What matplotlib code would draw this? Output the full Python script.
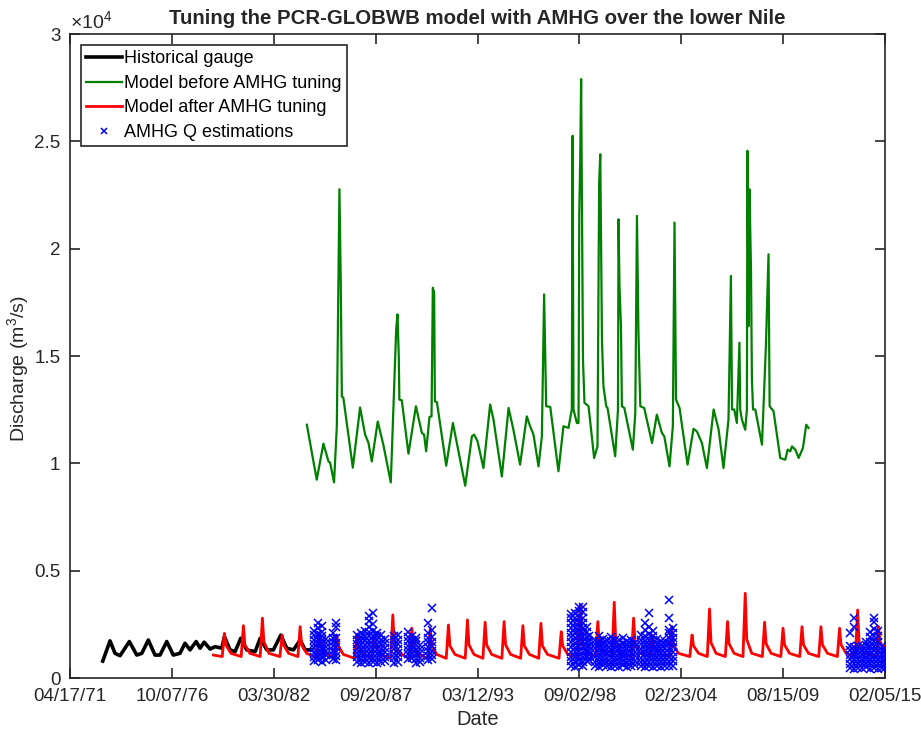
import matplotlib
matplotlib.use('Agg')
import matplotlib.pyplot as plt
import matplotlib.dates as mdates
from datetime import datetime

plt.rcParams['font.family'] = ['Liberation Sans', 'DejaVu Sans']
plt.rcParams['mathtext.fontset'] = 'custom'
plt.rcParams['mathtext.rm'] = 'Liberation Sans'
plt.rcParams['mathtext.it'] = 'Liberation Sans'

# ---- data (time in decimal years, Q in m3/s) ----
gauge_t = [1973.05, 1973.44, 1973.71, 1973.98, 1974.48, 1974.88, 1975.15, 1975.50,
           1975.86, 1976.13, 1976.49, 1976.84, 1977.20, 1977.47, 1977.74, 1978.07,
           1978.28, 1978.50, 1978.82, 1979.09, 1979.45, 1979.59, 1979.89, 1980.16,
           1980.47, 1980.79, 1981.24, 1981.51, 1981.87, 1982.22, 1982.62, 1982.94,
           1983.30, 1983.66, 1983.93, 1984.29]
gauge_q = [790, 1730, 1150, 1040, 1700, 1070, 1150, 1770,
           1070, 1070, 1700, 1070, 1150, 1620, 1310, 1700,
           1390, 1670, 1350, 1460, 1390, 1930, 1310, 1230,
           1850, 1310, 1230, 1850, 1310, 1310, 2000, 1390,
           1310, 1770, 1310, 1310]

before_t = [1984.02, 1984.55, 1984.91, 1985.18, 1985.27, 1985.48, 1985.63, 1985.77, 1985.84,
            1985.90, 1985.98, 1986.49, 1986.88, 1987.15, 1987.33, 1987.51, 1987.83, 1988.13,
            1988.53, 1988.82, 1988.89, 1988.96, 1988.99, 1989.12, 1989.48, 1989.88, 1990.20,
            1990.32, 1990.43, 1990.61, 1990.72, 1990.79, 1990.86, 1990.90, 1991.01, 1991.51,
            1991.87, 1992.08, 1992.53, 1992.89, 1993.01, 1993.19, 1993.51, 1993.87, 1994.05,
            1994.50, 1994.86, 1995.12, 1995.48, 1995.84, 1996.02, 1996.20, 1996.47, 1996.65,
            1996.77, 1996.84, 1996.88, 1997.10, 1997.54, 1997.81, 1998.08, 1998.26, 1998.30,
            1998.35, 1998.53, 1998.62, 1998.66, 1998.71, 1998.76, 1998.86, 1998.94, 1999.16,
            1999.46, 1999.64, 1999.73, 1999.79, 1999.88, 1999.96, 2000.11, 2000.18, 2000.59,
            2000.74, 2000.77, 2000.82, 2000.90, 2000.95, 2001.08, 2001.54, 2001.67, 2001.76,
            2001.84, 2001.94, 2002.15, 2002.57, 2002.83, 2003.10, 2003.23, 2003.51, 2003.69,
            2003.78, 2003.86, 2004.05, 2004.48, 2004.80, 2004.98, 2005.25, 2005.52, 2005.88,
            2006.15, 2006.41, 2006.68, 2006.81, 2006.87, 2006.99, 2007.13, 2007.27, 2007.31,
            2007.40, 2007.58, 2007.67, 2007.70, 2007.76, 2007.81, 2007.89, 2007.94, 2008.00,
            2008.12, 2008.48, 2008.69, 2008.83, 2008.89, 2009.10, 2009.46, 2009.73, 2009.86,
            2010.00, 2010.09, 2010.27, 2010.45, 2010.68, 2010.86, 2010.98]
before_q = [11800, 9240, 10920, 10090, 10030, 9110, 11730, 22770, 18490,
            13110, 13060, 9800, 12600, 11340, 10960, 10090, 11950, 10870,
            9110, 16240, 16940, 14930, 12970, 12940, 10450, 12660, 11420,
            11340, 10560, 12160, 12190, 18180, 17960, 12890, 12850, 9890,
            11880, 10950, 8960, 11260, 11340, 11030, 9780, 12740, 12040,
            9390, 12580, 11570, 9940, 12190, 11730, 11340, 9860, 11260,
            17870, 14370, 12660, 12630, 9630, 11730, 11650, 12510, 25260,
            12510, 11880, 11880, 21680, 24090, 27900, 14840, 12820, 12660,
            10250, 10790, 23080, 24400, 15770, 13590, 12660, 12580, 10330,
            12510, 21370, 18260, 16390, 12660, 12580, 10640, 12350, 21530,
            16080, 12660, 12580, 10950, 12270, 11420, 11260, 9860, 11730,
            21220, 12970, 12580, 9940, 11610, 11490, 10950, 9780, 12510,
            11570, 9780, 12040, 18730, 12510, 12510, 11880, 15620, 12510,
            12040, 11570, 12510, 24560, 16390, 22770, 19040, 13900, 12510,
            12510, 10870, 15460, 19740, 12660, 12430, 10250, 10170, 10640,
            10560, 10790, 10640, 10250, 10720, 11800, 11650]

after_t = [1979.00,
           1979.47, 1979.59, 1979.67, 1979.94, 1980.49, 1980.61, 1980.69, 1980.96,
           1981.51, 1981.63, 1981.71, 1981.98, 1982.57, 1982.69, 1982.77, 1983.04,
           1983.54, 1983.66, 1983.74, 1984.01, 1984.56, 1984.68, 1984.76, 1985.03,
           1985.51, 1985.63, 1985.71, 1985.98, 1986.58, 1986.70, 1986.78, 1987.05,
           1987.51, 1987.63, 1987.71, 1987.98, 1988.52, 1988.64, 1988.72, 1988.99,
           1989.54, 1989.66, 1989.74, 1990.01, 1990.53, 1990.65, 1990.73, 1991.00,
           1991.51, 1991.63, 1991.71, 1991.98, 1992.53, 1992.65, 1992.73, 1993.00,
           1993.48, 1993.60, 1993.68, 1993.95, 1994.50, 1994.62, 1994.70, 1994.97,
           1995.51, 1995.63, 1995.71, 1995.98, 1996.48, 1996.60, 1996.68, 1996.95,
           1997.57, 1997.69, 1997.77, 1998.04, 1998.59, 1998.71, 1998.79, 1999.06,
           1999.54, 1999.66, 1999.74, 2000.01, 2000.42, 2000.54, 2000.62, 2000.89,
           2001.46, 2001.58, 2001.66, 2001.93, 2002.46, 2002.58, 2002.66, 2002.93,
           2003.52, 2003.64, 2003.72, 2003.99, 2004.60, 2004.72, 2004.80, 2005.07,
           2005.54, 2005.66, 2005.74, 2006.01, 2006.51, 2006.63, 2006.71, 2006.98,
           2007.46, 2007.58, 2007.66, 2007.93, 2008.50, 2008.62, 2008.70, 2008.97,
           2009.49, 2009.61, 2009.69, 2009.96, 2010.51, 2010.63, 2010.71, 2010.98,
           2011.53, 2011.65, 2011.73, 2012.00, 2012.53, 2012.65, 2012.73, 2013.00,
           2013.50, 2013.62, 2013.70, 2013.97, 2014.63, 2014.75, 2014.83, 2015.06]
after_q = [1070,
           1000, 2080, 1540, 1150, 1000, 2440, 1540, 1150,
           1000, 2790, 1700, 1150, 1000, 2000, 1540, 1150,
           1000, 2390, 1540, 1150, 950, 2100, 1500, 1150,
           920, 2000, 1500, 1100, 920, 2000, 1500, 1100,
           920, 2000, 1500, 1100, 920, 2940, 1600, 1150,
           920, 2320, 1500, 1100, 920, 2300, 1500, 1100,
           920, 2470, 1500, 1100, 920, 2710, 1550, 1100,
           920, 2600, 1550, 1100, 920, 2630, 1550, 1100,
           920, 2440, 1500, 1100, 920, 2550, 1500, 1100,
           920, 2160, 1500, 1100, 950, 3400, 1700, 1150,
           1000, 2630, 1600, 1150, 1000, 3530, 1700, 1150,
           1000, 2790, 1600, 1150, 1000, 2000, 1500, 1150,
           1000, 2390, 1550, 1150, 1000, 2000, 1500, 1150,
           1000, 3220, 1650, 1150, 1000, 2630, 1600, 1150,
           1000, 3950, 1800, 1150, 1000, 2600, 1600, 1150,
           1000, 2320, 1550, 1150, 1000, 2390, 1550, 1150,
           1000, 2390, 1550, 1150, 1000, 2320, 1550, 1150,
           1000, 3170, 1650, 1150, 1000, 2390, 1600, 1460]

# AMHG estimates: one date per column, several estimates per date
amhg_t = [1984.41, 1984.62, 1984.84, 1985.05, 1985.40, 1985.58,
          1986.72, 1986.93, 1987.15, 1987.37, 1987.58, 1987.80, 1988.01, 1988.20,
          1988.71, 1988.92, 1989.46, 1989.67, 1989.87, 1990.08, 1990.54, 1990.75,
          1998.23, 1998.44, 1998.66, 1998.87, 1999.06, 1999.21,
          1999.52, 1999.73, 1999.95, 2000.16, 2000.38, 2000.59, 2000.81, 2001.02,
          2001.24, 2001.45, 2001.67, 2001.99, 2002.21, 2002.42, 2002.64, 2002.85,
          2003.07, 2003.28, 2003.46, 2003.68,
          2013.23, 2013.44, 2013.66, 2013.87, 2014.09, 2014.30, 2014.52, 2014.73,
          2014.95, 2015.08]
amhg_q = [[780, 980, 1180, 1390, 1590, 1790, 2000, 2180],
          [820, 1010, 1220, 1420, 1610, 1830, 2050, 2330, 2570],
          [760, 960, 1160, 1370, 1570, 1770, 1980, 2150, 2420],
          [850, 1050, 1250, 1450, 1650, 1840],
          [870, 1060, 1260, 1470, 1680, 1880, 2100],
          [840, 1030, 1230, 1440, 1650, 1860, 2380, 2570],
          [760, 960, 1170, 1370, 1580, 1780, 1990],
          [700, 900, 1110, 1310, 1520, 1720, 1930, 2100],
          [740, 950, 1150, 1360, 1560, 1770, 1970, 2180],
          [710, 910, 1120, 1330, 1530, 1740, 1950, 2150, 2400, 2650, 2900],
          [730, 930, 1140, 1340, 1550, 1760, 1960, 2200, 2520, 3020],
          [720, 920, 1130, 1330, 1540, 1750, 1950, 2080],
          [760, 960, 1170, 1370, 1580, 1790, 2000],
          [790, 990, 1200, 1400, 1610, 1830],
          [720, 920, 1130, 1330, 1540, 1750, 1980],
          [760, 960, 1170, 1370, 1580, 1790, 2010],
          [900, 1100, 1310, 1510, 1720, 1930, 2160],
          [950, 1150, 1360, 1560, 1770, 1980],
          [700, 900, 1110, 1310, 1520, 1720, 1850],
          [740, 940, 1150, 1350, 1560],
          [840, 1040, 1250, 1450, 1660, 1870, 2080, 2550],
          [870, 1070, 1280, 1480, 1690, 1900, 2240, 3280],
          [560, 780, 1000, 1230, 1450, 1680, 1900, 2120, 2350, 2570, 2800, 3000],
          [520, 750, 970, 1200, 1420, 1650, 1870, 2100, 2320, 2550, 2780, 3050],
          [600, 820, 1040, 1270, 1490, 1720, 1940, 2170, 2400, 2620, 2850, 3100, 3330],
          [540, 760, 990, 1210, 1440, 1660, 1890, 2110, 2340, 2560, 2800, 3060, 3330],
          [800, 1020, 1250, 1470, 1700, 1920, 2150, 2380],
          [850, 1050, 1280, 1500, 1720, 1950],
          [560, 760, 970, 1170, 1380, 1580, 1770],
          [510, 720, 920, 1130, 1330, 1540, 1740, 1950],
          [590, 790, 1000, 1200, 1410, 1610, 1800],
          [540, 740, 950, 1150, 1360, 1560, 1760],
          [500, 710, 910, 1120, 1320, 1530, 1730, 1900],
          [570, 770, 980, 1180, 1390, 1590, 1780],
          [530, 730, 940, 1140, 1350, 1550, 1750],
          [600, 800, 1010, 1210, 1420, 1620, 1850],
          [520, 720, 930, 1130, 1340, 1540, 1740],
          [560, 760, 970, 1170, 1380, 1580, 1760],
          [610, 810, 1020, 1220, 1430, 1630],
          [540, 750, 950, 1160, 1360, 1570, 1780, 2000],
          [500, 700, 910, 1110, 1320, 1520, 1730, 1950, 2250, 2550],
          [560, 760, 970, 1170, 1380, 1580, 1790, 2030, 2390, 3050],
          [520, 730, 930, 1140, 1340, 1550, 1760, 1980, 2200],
          [580, 780, 990, 1190, 1400, 1600, 1800],
          [530, 740, 940, 1150, 1350, 1560, 1730],
          [560, 770, 970, 1180, 1380, 1590, 1720],
          [540, 750, 960, 1180, 1400, 1620, 1850, 2080, 2240, 2810, 3640],
          [580, 790, 1000, 1220, 1440, 1660, 1880, 2100, 2330],
          [470, 670, 880, 1080, 1290, 1490, 2080],
          [430, 640, 840, 1050, 1250, 1460, 2390, 2790],
          [480, 690, 890, 1100, 1300, 1500],
          [450, 650, 860, 1060, 1270, 1480],
          [500, 700, 910, 1110, 1320, 1520, 1700],
          [430, 640, 850, 1050, 1260, 1460, 1690, 1900, 2150],
          [470, 680, 880, 1090, 1300, 1510, 1740, 1980, 2300, 2600, 2790],
          [440, 650, 850, 1060, 1270, 1480, 1700, 1950, 2200],
          [480, 690, 890, 1100, 1300, 1500],
          [450, 660, 870, 1070, 1280]]

tick_dates = [datetime(1971, 4, 17), datetime(1976, 10, 7), datetime(1982, 3, 30),
              datetime(1987, 9, 20), datetime(1993, 3, 12), datetime(1998, 9, 2),
              datetime(2004, 2, 23), datetime(2009, 8, 15), datetime(2015, 2, 5)]
ytick_vals = [0, 5000, 10000, 15000, 20000, 25000, 30000]
ytick_labels = ['0', '0.5', '1', '1.5', '2', '2.5', '3']


def yr2num(y):
    yr = int(y)
    d0 = datetime(yr, 1, 1)
    d1 = datetime(yr + 1, 1, 1)
    return mdates.date2num(d0 + (d1 - d0) * (y - yr))


fig = plt.figure(figsize=(9.21, 7.30), dpi=100)
ax = fig.add_axes([0.076, 0.0712, 0.885, 0.8822])
txt = '#262626'

ax.plot([yr2num(t) for t in gauge_t], gauge_q, color='black', lw=2.6,
        label='Historical gauge', zorder=3)
ax.plot([yr2num(t) for t in before_t], before_q, color='#008000', lw=1.6,
        label='Model before AMHG tuning', zorder=2)
ax.plot([yr2num(t) for t in after_t], after_q, color='red', lw=2.0,
        label='Model after AMHG tuning', zorder=4)
sx, sy = [], []
for t, qs in zip(amhg_t, amhg_q):
    for q in qs:
        sx.append(yr2num(t))
        sy.append(q)
ax.plot(sx, sy, ls='none', marker='x', color='blue', ms=5.2, mew=1.1,
        label='AMHG Q estimations', zorder=5)

ax.set_xlim(mdates.date2num(tick_dates[0]), mdates.date2num(tick_dates[-1]))
ax.set_ylim(0, 30000)
ax.set_xticks([mdates.date2num(d) for d in tick_dates])
ax.set_xticklabels([d.strftime('%m/%d/%y') for d in tick_dates])
ax.set_yticks(ytick_vals)
ax.set_yticklabels(ytick_labels)
ax.tick_params(direction='in', length=7, width=1.2, top=True, right=True,
               labelsize=13.5, colors=txt)
ax.tick_params(axis='x', pad=7)
ax.tick_params(axis='y', pad=7)
for s in ax.spines.values():
    s.set_linewidth(1.2)
    s.set_color(txt)

ax.text(0.0, 1.003, r'$\times10^{4}$', transform=ax.transAxes, fontsize=14,
        color=txt, ha='left', va='bottom')
ax.set_title('Tuning the PCR-GLOBWB model with AMHG over the lower Nile',
             fontsize=14.7, fontweight='bold', color=txt, pad=7)
ax.set_xlabel('Date', fontsize=14.5, color=txt, labelpad=4)
ax.set_ylabel('Discharge (m$^3$/s)', fontsize=14, color=txt)
ax.yaxis.set_label_coords(-0.048, 0.48)

leg = ax.legend(loc='upper left', fontsize=13, frameon=True, fancybox=False,
                handlelength=2.0, handletextpad=0.1, borderpad=0.3,
                labelspacing=0.42, borderaxespad=0.6, markerscale=0.7)
leg.get_frame().set_edgecolor(txt)
leg.get_frame().set_linewidth(1.2)
leg.get_frame().set_alpha(1)

fig.savefig('out.png', dpi=100)
